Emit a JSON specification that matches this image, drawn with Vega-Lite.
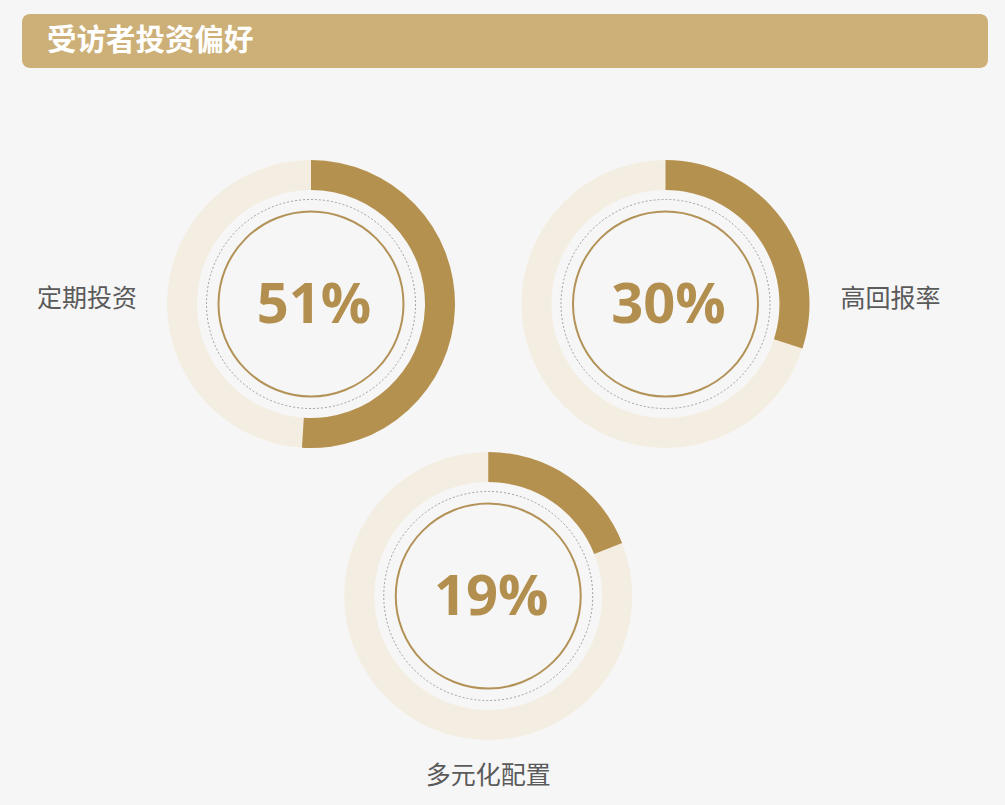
{
  "$schema": "https://vega.github.io/schema/vega-lite/v6.json",
  "background": "#f6f6f6",
  "padding": {"left": 22, "top": 14, "right": 17, "bottom": 0},
  "spacing": 0,
  "config": {"view": {"stroke": null}},
  "datasets": {
    "prefs": [
      {"label": "定期投资", "start": 0, "pct": 0.51, "col": 0, "row": 0, "side": "left"},
      {"label": "高回报率", "start": 0, "pct": 0.30, "col": 1, "row": 0, "side": "right"},
      {"label": "多元化配置", "start": 0, "pct": 0.19, "col": 0.5, "row": 1, "side": "bottom"}
    ]
  },
  "vconcat": [
    {
      "width": 966,
      "height": 54,
      "data": {"values": [{"title": "受访者投资偏好", "start": 0, "full": 1}]},
      "layer": [
        {
          "mark": {"type": "rect", "cornerRadius": 8, "color": "#cdb077"},
          "encoding": {
            "x": {"field": "start", "type": "quantitative", "scale": {"domain": [0, 1]}, "axis": null},
            "x2": {"field": "full"},
            "y": {"field": "start", "type": "quantitative", "scale": {"domain": [0, 1]}, "axis": null},
            "y2": {"field": "full"}
          }
        },
        {
          "mark": {"type": "text", "align": "left", "baseline": "middle", "dx": 25, "font": "Noto Sans CJK SC", "fontSize": 29.5, "fontWeight": "bold", "color": "#ffffff"},
          "encoding": {
            "x": {"field": "start", "type": "quantitative"},
            "text": {"field": "title"}
          }
        }
      ]
    },
    {
      "width": 966,
      "height": 737,
      "data": {"name": "prefs"},
      "encoding": {
        "x": {"field": "col", "type": "quantitative", "scale": {"domain": [0, 1], "range": [289, 643.5]}, "axis": null},
        "y": {"field": "row", "type": "quantitative", "scale": {"domain": [0, 1], "range": [236, 528]}, "axis": null}
      },
      "layer": [
        {
          "mark": {"type": "arc", "innerRadius": 114, "outerRadius": 144, "theta": 0, "theta2": 6.2832, "color": "#f4eee2"}
        },
        {
          "mark": {"type": "arc", "innerRadius": 114, "outerRadius": 144, "color": "#b5914f"},
          "encoding": {
            "theta": {"field": "start", "type": "quantitative", "stack": null, "scale": {"domain": [0, 1], "range": [0, 6.2832]}},
            "theta2": {"field": "pct"}
          }
        },
        {
          "mark": {"type": "point", "shape": "circle", "filled": false, "size": 43681, "stroke": "#8a8a8a", "strokeWidth": 0.8, "strokeDash": [2, 2], "opacity": 1}
        },
        {
          "mark": {"type": "point", "shape": "circle", "filled": false, "size": 34225, "stroke": "#b39258", "strokeWidth": 2, "opacity": 1}
        },
        {
          "mark": {"type": "text", "align": "center", "baseline": "middle", "dx": 3, "dy": 2, "font": "Open Sans", "fontSize": 56, "fontWeight": "bold", "color": "#b38f4f"},
          "encoding": {"text": {"field": "pct", "type": "quantitative", "format": ".0%"}}
        },
        {
          "transform": [{"filter": "datum.side == 'left'"}],
          "mark": {"type": "text", "align": "center", "baseline": "middle", "dx": -224, "dy": -5, "font": "Noto Sans CJK SC", "fontSize": 25, "color": "#5a5a5a"},
          "encoding": {"text": {"field": "label"}}
        },
        {
          "transform": [{"filter": "datum.side == 'right'"}],
          "mark": {"type": "text", "align": "center", "baseline": "middle", "dx": 225, "dy": -5, "font": "Noto Sans CJK SC", "fontSize": 25, "color": "#5a5a5a"},
          "encoding": {"text": {"field": "label"}}
        },
        {
          "transform": [{"filter": "datum.side == 'bottom'"}],
          "mark": {"type": "text", "align": "center", "baseline": "middle", "dy": 180, "font": "Noto Sans CJK SC", "fontSize": 25, "color": "#5a5a5a"},
          "encoding": {"text": {"field": "label"}}
        }
      ]
    }
  ]
}
